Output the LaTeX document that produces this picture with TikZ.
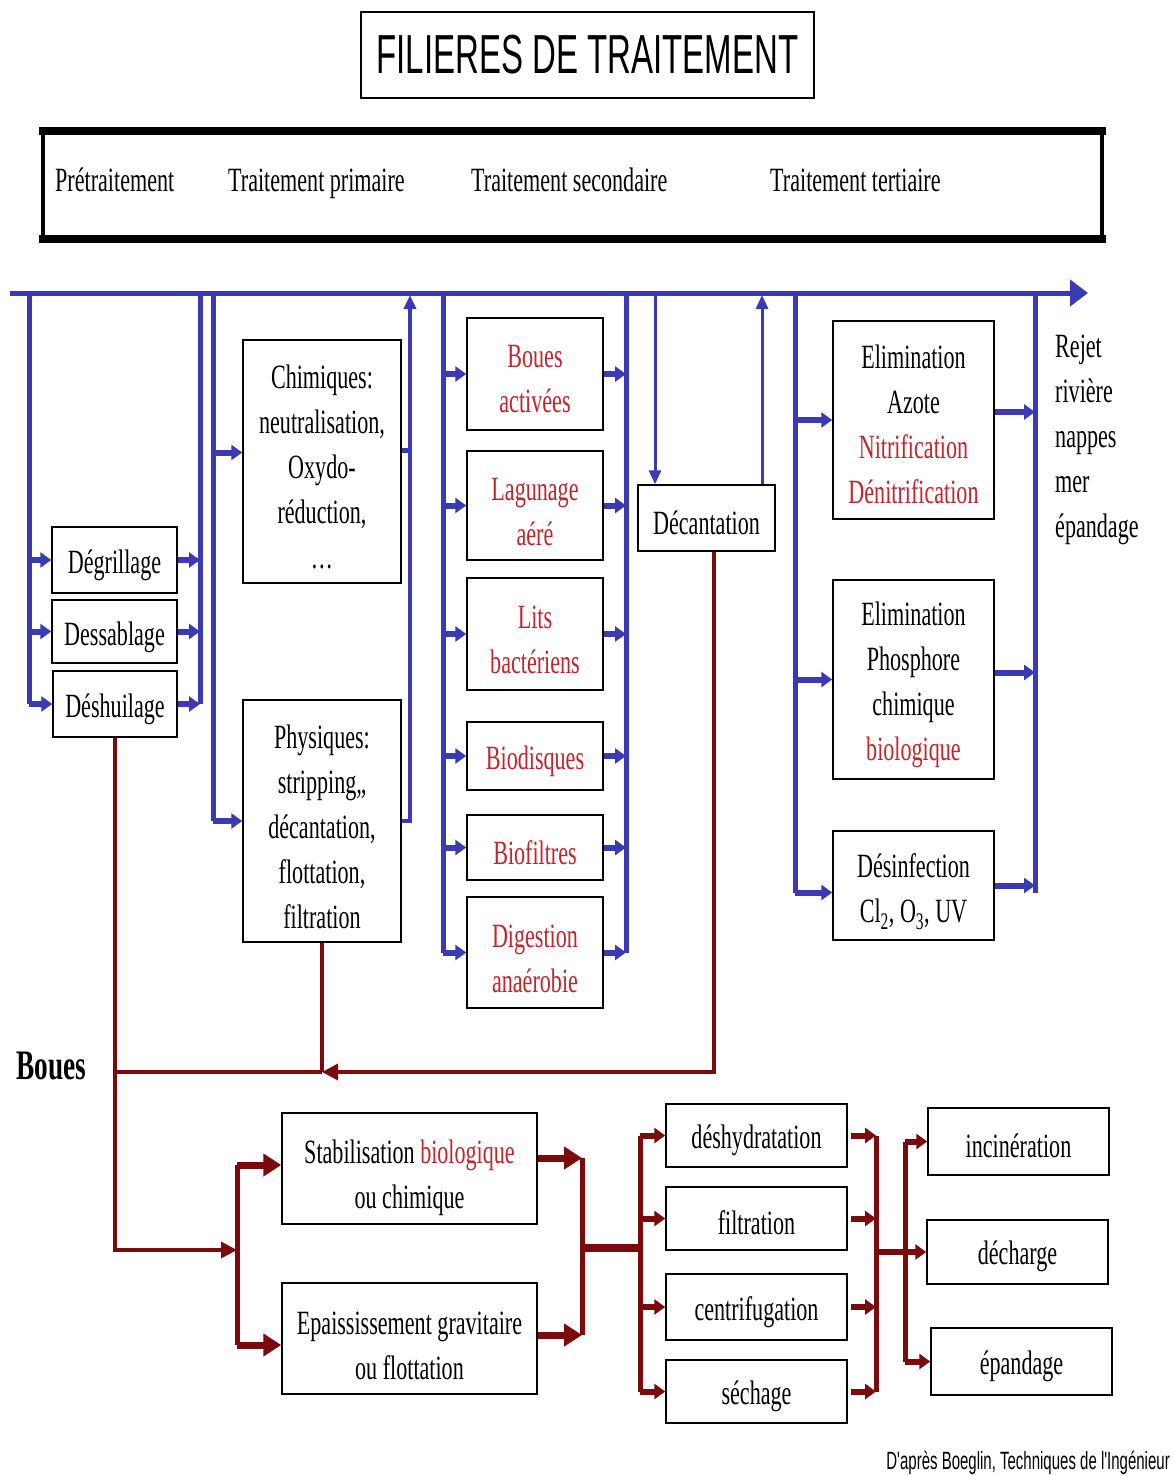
\documentclass[tikz,border=0pt]{standalone}
\usepackage{fontspec}
\setmainfont{Liberation Serif}[FakeStretch=0.65]
\newfontfamily\titlefont{Liberation Sans}[FakeStretch=0.6]
\usetikzlibrary{arrows.meta}
\definecolor{myblue}{RGB}{58,58,180}
\definecolor{mydark}{RGB}{122,10,12}
\definecolor{myred}{RGB}{196,36,44}
\newcommand\myrule[1]{\rule{0pt}{#1pt}}
\begin{document}
\begin{tikzpicture}[x=1pt,y=-1pt,
 box/.style={draw=black, line width=1.5pt, inner sep=0pt, align=center, font=\fontsize{34}{45}\selectfont},
 rbox/.style={box, text=myred},
 bus/.style={draw=myblue, line width=5pt},
 barr/.style={draw=myblue, line width=6pt, -{Triangle[length=11pt,width=15pt]}},
 bthin/.style={draw=myblue, line width=3pt, -{Triangle[length=14pt,width=12pt]}},
 rline/.style={draw=mydark, line width=3.5pt},
 rthick/.style={draw=mydark, line width=5pt},
 rbig/.style={draw=mydark, line width=7pt, -{Triangle[length=18pt,width=22pt]}},
 rarr/.style={draw=mydark, line width=6pt, -{Triangle[length=11pt,width=15pt]}},
 lbl/.style={font=\fontsize{34}{45}\selectfont, inner sep=0pt},
]
\useasboundingbox[fill=white] (0,0) rectangle (1175,1476);

% title and header
\node[draw, line width=1.5pt, minimum width=453pt, minimum height=86pt, inner sep=0pt,
      font=\titlefont\fontsize{55}{60}\selectfont] (title) at (587.5,55) {FILIERES DE TRAITEMENT};
\node[draw, line width=4pt, minimum width=1059pt, minimum height=108pt, inner sep=0pt] (header) at (572.5,185) {};
\fill ([xshift=-2pt,yshift=2pt]header.north west) rectangle ([xshift=2pt,yshift=-6pt]header.north east);
\fill ([xshift=-2pt,yshift=-2pt]header.south west) rectangle ([xshift=2pt,yshift=6pt]header.south east);
\node[lbl, anchor=base west] (h1) at (55,191) {Prétraitement};
\node[lbl, anchor=base west] (h2) at (228,191) {Traitement primaire};
\node[lbl, anchor=base west] (h3) at (471,191) {Traitement secondaire};
\node[lbl, anchor=base west] (h4) at (770,191) {Traitement tertiaire};

% pretraitement
\node[box, minimum width=125pt, minimum height=66pt] (degr) at (114.5,560) {\myrule{35}Dégrillage};
\node[box, minimum width=125pt, minimum height=63pt] (dess) at (114.5,631.5) {\myrule{35}Dessablage};
\node[box, minimum width=124pt, minimum height=66pt] (desh) at (115,704) {\myrule{35}Déshuilage};

% primaire
\node[box, minimum width=158pt, minimum height=243pt] (chim) at (322,461.5) {\myrule{34}Chimiques:\\neutralisation,\\Oxydo-\\réduction,\\\dots};
\node[box, minimum width=158pt, minimum height=242pt] (phys) at (322,821) {\myrule{36}Physiques:\\stripping,,\\décantation,\\flottation,\\filtration};

% secondaire
\node[rbox, minimum width=136pt, minimum height=112pt] (bact) at (535,374) {\myrule{33}Boues\\activées};
\node[rbox, minimum width=136pt, minimum height=109pt] (lag) at (535,505.5) {\myrule{35}Lagunage\\aéré};
\node[rbox, minimum width=136pt, minimum height=112pt] (lits) at (535,634) {\myrule{35}Lits\\bactériens};
\node[rbox, minimum width=136pt, minimum height=68pt] (biod) at (535,756) {\myrule{35}Biodisques};
\node[rbox, minimum width=136pt, minimum height=65pt] (biof) at (535,847.5) {\myrule{35}Biofiltres};
\node[rbox, minimum width=136pt, minimum height=111pt] (dig) at (535,952.5) {\myrule{35}Digestion\\anaérobie};
\node[box, minimum width=137pt, minimum height=66pt] (dec) at (706.5,518) {\myrule{33}Décantation};

% tertiaire
\node[box, minimum width=161pt, minimum height=198pt] (azote) at (913.5,420) {\myrule{33}Elimination\\Azote\\\textcolor{myred}{Nitrification}\\\textcolor{myred}{Dénitrification}};
\node[box, minimum width=161pt, minimum height=199pt] (phos) at (913.5,679.5) {\myrule{35}Elimination\\Phosphore\\chimique\\\textcolor{myred}{biologique}};
\node[box, minimum width=161pt, minimum height=109pt] (desinf) at (913.5,885.5) {\myrule{37}Désinfection\\Cl\textsubscript{2}, O\textsubscript{3}, UV};
\node[lbl, align=left, anchor=west] (rejet) at (1055,440) {Rejet\\rivière\\nappes\\mer\\épandage};

% boues
\node[font=\bfseries\fontsize{42}{50}\selectfont, inner sep=0pt, anchor=west] (boues) at (16,1066) {Boues};
\node[box, minimum width=255pt, minimum height=111pt] (stab) at (409.5,1168.5) {\myrule{43}Stabilisation \textcolor{myred}{biologique}\\ou chimique};
\node[box, minimum width=255pt, minimum height=111pt] (epai) at (409.5,1338.5) {\myrule{37}Epaississement gravitaire\\ou flottation};
\node[box, minimum width=181pt, minimum height=63pt] (deshy) at (756.5,1135.5) {\myrule{33}déshydratation};
\node[box, minimum width=181pt, minimum height=63pt] (filt) at (756.5,1218.5) {\myrule{33}filtration};
\node[box, minimum width=181pt, minimum height=66pt] (centri) at (756.5,1307) {\myrule{35}centrifugation};
\node[box, minimum width=181pt, minimum height=63pt] (sech) at (756.5,1391.5) {\myrule{33}séchage};
\node[box, minimum width=181pt, minimum height=67pt] (inc) at (1018.5,1141.5) {\myrule{33}incinération};
\node[box, minimum width=181pt, minimum height=64pt] (dech) at (1017.5,1252) {\myrule{33}décharge};
\node[box, minimum width=181pt, minimum height=67pt] (epan) at (1021.5,1361.5) {\myrule{33}épandage};
\node[font=\titlefont\fontsize{25}{30}\selectfont, inner sep=0pt, anchor=east] (src) at (1170,1463) {D'après Boeglin, Techniques de l'Ingénieur};

% ---------- blue water line ----------
\coordinate (mL) at (10,293);
\coordinate (mR) at (1088,293);
\draw[bus, -{Triangle[length=18pt,width=26pt]}] (mL) -- (mR);

\coordinate (bA) at (29,293);
\draw[bus] (bA) -- (bA |- desh.west);
\foreach \n in {degr,dess,desh} \draw[barr] (bA |- \n.west) -- (\n.west);
\coordinate (bB) at (200,293);
\draw[bus] (bB) -- (bB |- desh.east);
\foreach \n in {degr,dess,desh} \draw[barr] (\n.east) -- (\n.east -| bB);

\coordinate (bC) at (213,293);
\draw[bus] (bC) -- (bC |- phys.west);
\coordinate (chimIn) at ([yshift=9pt]chim.west);
\draw[barr] (chimIn -| bC) -- (chimIn);
\draw[barr] (bC |- phys.west) -- (phys.west);
\coordinate (bD) at (410,295);
\coordinate (chimOut) at ([yshift=11pt]chim.east);
\draw[bus] (chimOut) -- (chimOut -| bD);
\draw[draw=myblue, line width=3.5pt, -{Triangle[length=14pt,width=12pt]}] (phys.east) -| (bD);

\coordinate (bE) at (443,293);
\draw[bus] (bE) -- (bE |- dig.west);
\foreach \n in {bact,lag,lits,biod,biof,dig} \draw[barr] (bE |- \n.west) -- (\n.west);
\coordinate (bF) at (626,293);
\draw[bus] (bF) -- (bF |- dig.east);
\foreach \n in {bact,lag,lits,biod,biof,dig} \draw[barr] (\n.east) -- (\n.east -| bF);

\coordinate (dIn) at (655,293);
\draw[bthin] (dIn) -- (dIn |- dec.north);
\coordinate (dOut) at (762,295);
\draw[bthin] (dOut |- dec.north) -- (dOut);

\coordinate (bG) at (795,293);
\coordinate (desIn) at ([yshift=-7pt]desinf.west);
\draw[bus] (bG) -- (bG |- desIn);
\draw[barr] (bG |- azote.west) -- (azote.west);
\draw[barr] (bG |- phos.west) -- (phos.west);
\draw[barr] (desIn -| bG) -- (desIn);
\coordinate (bH) at (1035,293);
\coordinate (azOut) at ([yshift=8pt]azote.east);
\coordinate (phOut) at ([yshift=7pt]phos.east);
\draw[bus] (bH) -- (bH |- desIn);
\draw[barr] (azOut) -- (azOut -| bH);
\draw[barr] (phOut) -- (phOut -| bH);
\draw[barr] (desinf.east) -- (desinf.east -| bH);

% ---------- sludge line ----------
\coordinate (jA) at (115,1072);
\coordinate (jB) at (322,1072);
\coordinate (decB) at ([xshift=7.5pt]dec.south);
\draw[rline, -{Triangle[length=16pt,width=16pt]}] (decB) |- (jB);
\draw[rline] (jB) -- (jA);
\draw[rline] (phys.south) -- (jB);
\coordinate (sA) at (237,1250);
\draw[rline, -{Triangle[length=16pt,width=16pt]}] (desh.south) |- (sA);
\coordinate (stIn) at ([yshift=3.5pt]stab.west);
\coordinate (epIn) at ([yshift=-6.5pt]epai.west);
\draw[rthick] (stIn -| sA) -- (epIn -| sA);
\draw[rbig] (stIn -| sA) -- (stIn);
\draw[rbig] (epIn -| sA) -- (epIn);

\coordinate (stOut) at ([yshift=10.5pt]stab.east);
\coordinate (epOut) at ([yshift=3.5pt]epai.east);
\coordinate (sB) at (582,1248);
\draw[rbig] (stOut) -- (stOut -| sB);
\draw[rbig] (epOut) -- (epOut -| sB);
\draw[rthick] (stOut -| sB) -- (epOut -| sB);
\coordinate (sC) at (640,1248);
\draw[draw=mydark, line width=8pt] (sB) -- (sC);
\draw[rthick] (sC |- deshy.west) -- (sC |- sech.west);
\foreach \n in {deshy,filt,centri,sech} \draw[rarr] (sC |- \n.west) -- (\n.west);

\coordinate (sD) at (876,1252);
\coordinate (sE) at (905,1252);
\foreach \n in {deshy,filt,centri,sech} \draw[rarr] ([xshift=3pt]\n.east) -- (\n.east -| sD);
\draw[rthick] (sD |- deshy.east) -- (sD |- sech.east);
\draw[rarr] (sD) -- (dech.west);
\draw[rthick] (sE |- inc.west) -- (sE |- epan.west);
\draw[rarr] (sE |- inc.west) -- (inc.west);
\draw[rarr] (sE |- epan.west) -- (epan.west);
\end{tikzpicture}
\end{document}
